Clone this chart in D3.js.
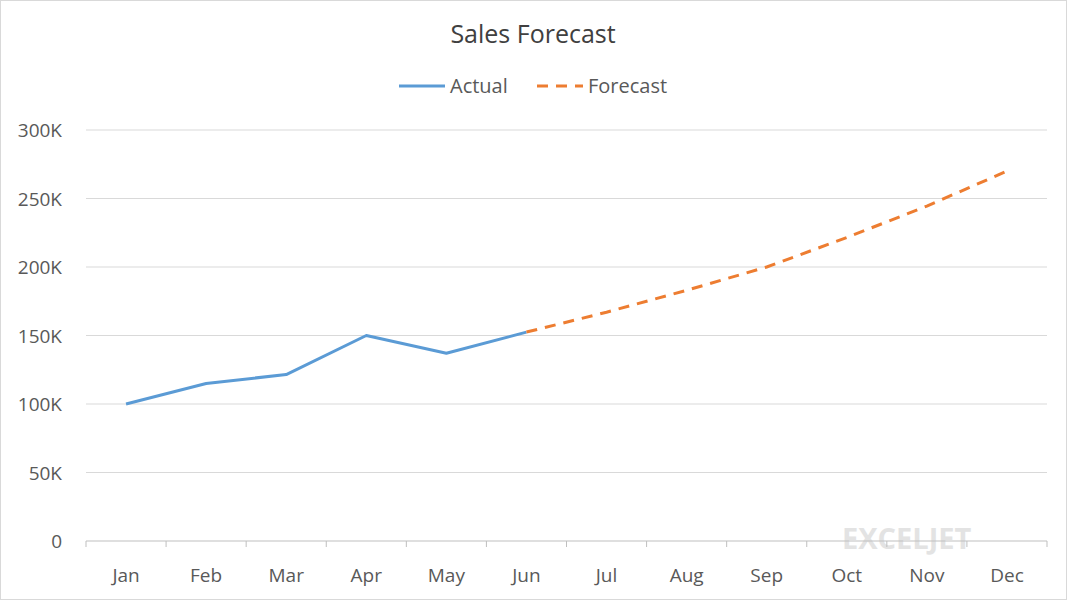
<!DOCTYPE html>
<html><head><meta charset="utf-8">
<script src="https://cdn.jsdelivr.net/npm/d3@7"></script>
<style>body{margin:0;background:#fff}text{font-family:"Open Sans",sans-serif}</style>
</head><body><svg id="c" width="1067" height="600"></svg>
<script>
const months=["Jan","Feb","Mar","Apr","May","Jun","Jul","Aug","Sep","Oct","Nov","Dec"];
const actual=[100000,115000,121500,150000,137000,152500];
const forecast=[null,null,null,null,null,152500,167000,183000,200000,221500,244500,270000];
const yTicks=[0,50000,100000,150000,200000,250000,300000];
const svg=d3.select("#c");
svg.append("rect").attr("x",0.5).attr("y",0.5).attr("width",1066).attr("height",599).attr("fill","#fff").attr("stroke","#d9d9d9");
const x=d3.scaleBand().domain(months).range([86,1047]);
const y=d3.scaleLinear().domain([0,300000]).range([541,130]);
const cx=m=>x(m)+x.bandwidth()/2;
svg.append("text").attr("x",842).attr("y",549).attr("font-size",29).attr("font-weight","bold").attr("fill","#e3e3e3").text("EXCELJET");
svg.append("g").selectAll("line").data(yTicks.slice(1)).join("line")
 .attr("x1",86).attr("x2",1047).attr("y1",d=>y(d)).attr("y2",d=>y(d)).attr("stroke","#d9d9d9");
svg.append("line").attr("x1",86).attr("x2",1047).attr("y1",541).attr("y2",541).attr("stroke","#bfbfbf");
svg.append("g").selectAll("line").data(d3.range(13)).join("line")
 .attr("x1",i=>86+i*x.bandwidth()).attr("x2",i=>86+i*x.bandwidth()).attr("y1",541).attr("y2",547).attr("stroke","#bfbfbf");
svg.append("g").selectAll("text").data(yTicks).join("text")
 .attr("x",62).attr("y",d=>y(d)+7).attr("text-anchor","end").attr("font-size",19).attr("fill","#595959")
 .text(d=>d===0?"0":(d/1000)+"K");
svg.append("g").selectAll("text").data(months).join("text")
 .attr("x",cx).attr("y",582).attr("text-anchor","middle").attr("font-size",19).attr("fill","#595959").text(d=>d);
const line=d3.line().defined(d=>d.v!=null).x(d=>cx(d.m)).y(d=>y(d.v));
svg.append("path").datum(actual.map((v,i)=>({m:months[i],v}))).attr("d",line)
 .attr("fill","none").attr("stroke","#5b9bd5").attr("stroke-width",3).attr("stroke-linejoin","round");
svg.append("path").datum(forecast.map((v,i)=>({m:months[i],v}))).attr("d",line)
 .attr("fill","none").attr("stroke","#ed7d31").attr("stroke-width",3).attr("stroke-dasharray","11,8");
svg.append("text").attr("x",533).attr("y",43).attr("text-anchor","middle").attr("font-size",25).attr("fill","#404040").text("Sales Forecast");
svg.append("line").attr("x1",399).attr("x2",445).attr("y1",86).attr("y2",86).attr("stroke","#5b9bd5").attr("stroke-width",3);
svg.append("text").attr("x",450).attr("y",93).attr("font-size",20).attr("fill","#595959").text("Actual");
svg.append("line").attr("x1",537).attr("x2",583).attr("y1",86).attr("y2",86).attr("stroke","#ed7d31").attr("stroke-width",3).attr("stroke-dasharray","11,8");
svg.append("text").attr("x",588).attr("y",93).attr("font-size",20).attr("fill","#595959").text("Forecast");
</script></body></html>
